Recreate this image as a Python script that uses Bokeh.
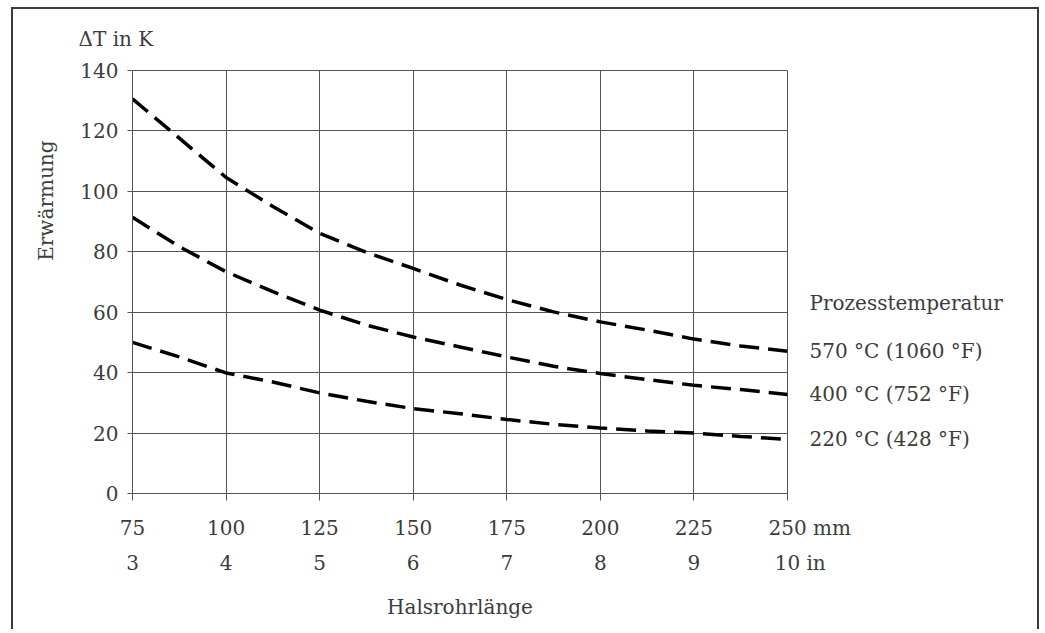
import math
from bokeh.plotting import figure
from bokeh.models import LinearAxis, FixedTicker, Range1d, Grid, Title
from bokeh.embed import file_html
from bokeh.resources import INLINE

# ---- data ----
length_mm = [75, 87.5, 100, 112.5, 125, 137.5, 150, 162.5, 175, 187.5, 200, 212.5, 225, 237.5, 250]
rise_570 = [130.6, 117.6, 104.6, 95.0, 86.1, 79.8, 74.5, 69.0, 64.2, 60.1, 56.8, 54.1, 51.1, 48.8, 47.1]
rise_400 = [91.4, 81.7, 73.4, 66.8, 60.7, 55.7, 51.8, 48.5, 45.2, 42.1, 39.7, 37.7, 35.8, 34.4, 32.8]
rise_220 = [50.0, 45.2, 39.9, 36.9, 33.3, 30.5, 28.1, 26.4, 24.5, 22.9, 21.7, 20.7, 20.0, 18.9, 17.9]
series_labels = ["570 °C (1060 °F)", "400 °C (752 °F)", "220 °C (428 °F)"]
legend_title = "Prozesstemperatur"
mm_ticks = [75, 100, 125, 150, 175, 200, 225, 250]
mm_labels = ["75", "100", "125", "150", "175", "200", "225", "\u2007\u2007\u2007 250 mm"]
inch_labels = ["3", "4", "5", "6", "7", "8", "9", "\u2007\u200710 in"]
y_ticks = [0, 20, 40, 60, 80, 100, 120, 140]

FONT = "DejaVu Serif"
FS = "20px"
TXT = "#3c3c3c"
GRID = "#555555"

W, H = 1028, 622
p = figure(width=W, height=H, output_backend="svg", toolbar_location=None,
           x_range=Range1d(75, 250), y_range=Range1d(0, 140),
           min_border_left=119, min_border_right=W - 774, min_border_top=61, min_border_bottom=H - 484,
           x_axis_location=None, y_axis_location=None)
p.margin = (7, 0, 0, 11)
p.styles = {"border-top": "2px solid #3a3a3a", "border-left": "2px solid #3a3a3a",
            "border-right": "2px solid #3a3a3a"}
p.outline_line_color = GRID
p.outline_line_width = 1
p.background_fill_color = "white"
p.border_fill_color = "white"

def style_labels(ax):
    ax.major_label_text_font = FONT
    ax.major_label_text_font_size = FS
    ax.major_label_text_color = TXT
    ax.minor_tick_line_color = None
    ax.major_tick_in = 0

# y axis
yax = LinearAxis(ticker=FixedTicker(ticks=y_ticks))
style_labels(yax)
yax.axis_line_color = GRID
yax.major_tick_line_color = GRID
yax.major_tick_out = 5
yax.major_label_standoff = 9
p.add_layout(yax, "left")

# right axis carrying the curve labels
ends = [rise_570[-1], rise_400[-1], rise_220[-1]]
rticks = ends + [62.9]
rax = LinearAxis(ticker=FixedTicker(ticks=rticks))
rax.major_label_overrides = {t: s for t, s in zip(rticks, series_labels + [legend_title])}
style_labels(rax)
rax.axis_line_color = None
rax.major_tick_line_color = None
rax.major_tick_out = 0
rax.major_label_standoff = 22
p.add_layout(rax, "right")

# x axis (mm)
xax = LinearAxis(ticker=FixedTicker(ticks=mm_ticks))
xax.major_label_overrides = {t: s for t, s in zip(mm_ticks, mm_labels)}
style_labels(xax)
xax.axis_line_color = GRID
xax.major_tick_line_color = GRID
xax.major_tick_out = 7
xax.major_label_standoff = 15
p.add_layout(xax, "below")

# x axis (inch labels)
xax2 = LinearAxis(ticker=FixedTicker(ticks=mm_ticks))
xax2.major_label_overrides = {t: s for t, s in zip(mm_ticks, inch_labels)}
style_labels(xax2)
xax2.axis_line_color = None
xax2.major_tick_line_color = None
xax2.major_tick_out = 0
xax2.major_label_standoff = 8
xax2.axis_label = "Halsrohrlänge"
xax2.axis_label_standoff = 17
xax2.axis_label_text_font = FONT
xax2.axis_label_text_font_size = FS
xax2.axis_label_text_font_style = "normal"
xax2.axis_label_text_color = TXT
p.add_layout(xax2, "below")

# unit caption and y title
p.add_layout(Title(text="ΔT in K", align="left", offset=-54, standoff=35, vertical_align="top",
                   text_font=FONT, text_font_size=FS, text_font_style="normal",
                   text_color=TXT), "above")
p.add_layout(Title(text="Erwärmung", align="right", offset=70, standoff=35, vertical_align="top",
                   text_font=FONT, text_font_size=FS, text_font_style="normal",
                   text_color=TXT), "left")

p.xgrid.grid_line_color = None
p.ygrid.grid_line_color = None
p.add_layout(Grid(dimension=0, ticker=xax.ticker, grid_line_color=GRID, grid_line_width=1))
p.add_layout(Grid(dimension=1, ticker=yax.ticker, grid_line_color=GRID, grid_line_width=1))

for ys in (rise_570, rise_400, rise_220):
    p.line(length_mm, ys, line_color="black", line_width=3.5, line_dash="20 9")

open("out.html", "w").write(file_html(p, INLINE))
